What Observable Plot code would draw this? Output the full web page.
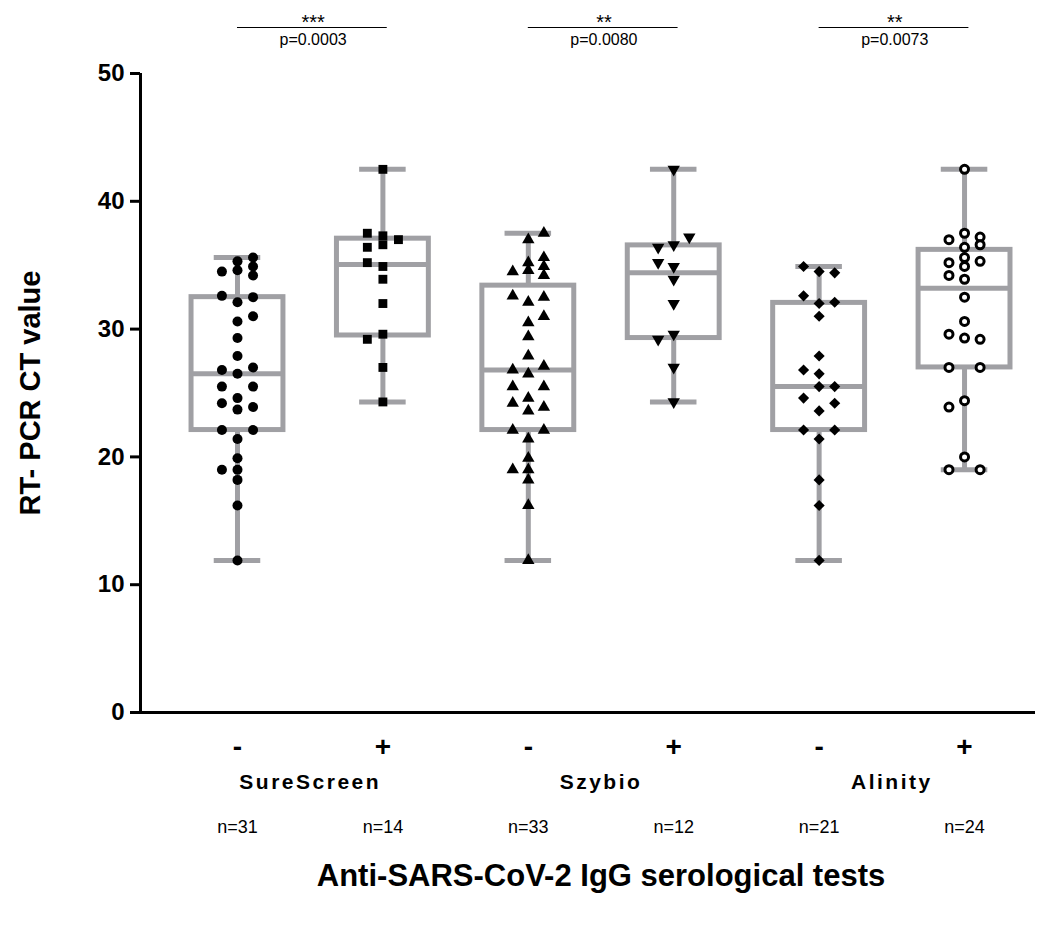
<!DOCTYPE html>
<html>
<head>
<meta charset="utf-8">
<script src="https://cdn.jsdelivr.net/npm/d3@7"></script>
<script src="https://cdn.jsdelivr.net/npm/@observablehq/plot@0.6"></script>
<style>
  body { margin: 0; background: #fff; font-family: "Liberation Sans", Arial, sans-serif; }
</style>
</head>
<body>
<div id="chart"></div>
<script>
// grupos (orden del eje x)
const groups = ['SureScreen -', 'SureScreen +', 'Szybio -', 'Szybio +', 'Alinity -', 'Alinity +']
const signs = ['-', '+', '-', '+', '-', '+']
const tests = ['SureScreen', 'Szybio', 'Alinity']
const counts = ['n=31', 'n=14', 'n=33', 'n=12', 'n=21', 'n=24']
const stars = ['***', '**', '**']
const pvalues = ['p=0.0003', 'p=0.0080', 'p=0.0073']

// valores CT por grupo: columna central, izquierda y derecha del scatter
const sureNeg = {
  c: [35.3, 34.6, 32.1, 30.6, 29.3, 27.9, 26.5, 24.6, 23.7, 21.4, 19.9, 19.0, 18.2, 16.2, 11.9],
  l: [34.5, 32.6, 26.8, 25.5, 24.2, 22.1, 19.0],
  r: [35.6, 34.9, 34.2, 32.5, 31.0, 27.0, 25.5, 23.9, 22.1],
}
const surePos = {
  c: [42.5, 37.3, 36.6, 34.9, 33.9, 32.0, 29.6, 27.0, 24.3],
  l: [37.5, 36.4, 35.2, 29.2],
  r: [37.0],
}
const szyNeg = {
  c: [37.0, 35.2, 34.6, 32.1, 30.5, 29.4, 27.9, 26.5, 24.6, 23.6, 21.4, 19.9, 19.0, 18.2, 16.2, 11.9],
  l: [34.5, 32.6, 26.8, 25.5, 24.2, 22.1, 19.0],
  r: [37.5, 35.6, 34.9, 34.2, 32.5, 31.0, 27.1, 25.5, 23.9, 22.1],
}
const szyPos = {
  c: [42.5, 36.6, 34.9, 33.9, 32.0, 29.6, 27.0, 24.3],
  l: [36.4, 35.2, 29.2],
  r: [37.2],
}
const aliNeg = {
  c: [34.5, 32.0, 31.0, 27.9, 26.5, 25.5, 23.6, 21.4, 18.2, 16.2, 11.9],
  l: [34.9, 32.6, 26.8, 24.6, 22.1],
  r: [34.4, 32.1, 25.5, 24.2, 22.1],
}
const aliPos = {
  c: [42.5, 37.5, 36.4, 35.6, 34.9, 33.9, 32.5, 30.6, 29.3, 24.4, 20.0],
  l: [37.0, 35.2, 34.2, 29.6, 27.0, 23.9, 19.0],
  r: [37.2, 36.6, 35.3, 29.2, 27.0, 19.0],
}
const series = [sureNeg, surePos, szyNeg, szyPos, aliNeg, aliPos]

// triángulo invertido
const triangleDown = {
  draw(ctx, size) {
    const s = Math.sqrt(size / (Math.sqrt(3) / 4)) // lado
    const h = s * Math.sqrt(3) / 2
    ctx.moveTo(0, h * 2 / 3)
    ctx.lineTo(s / 2, -h / 3)
    ctx.lineTo(-s / 2, -h / 3)
    ctx.closePath()
  },
}
const symbols = ['circle', 'square', 'triangle', triangleDown, 'diamond2', 'circle']
const radii = [5, 5, 4.6, 4.6, 5, 4]

const jitter = 0.107
const points = []
series.forEach((s, i) => {
  for (const [k, off] of [['c', 0], ['l', -1], ['r', 1]])
    s[k].forEach(v => points.push({ i, x: i + off * jitter, y: v }))
})

// cuartiles estilo GraphPad ((n+1)p)
function q(sorted, p) {
  const pos = (sorted.length + 1) * p - 1
  const lo = Math.max(0, Math.floor(pos)), hi = Math.min(sorted.length - 1, Math.ceil(pos))
  return sorted[lo] + (sorted[hi] - sorted[lo]) * (pos - lo)
}
const stats = series.map((s, i) => {
  const v = [...s.c, ...s.l, ...s.r].sort(d3.ascending)
  return { i, min: v[0], max: v[v.length - 1], q1: q(v, 0.25), med: q(v, 0.5), q3: q(v, 0.75) }
})

const gray = '#a0a0a4'
const bw = 0.316, cw = 0.16
const pairs = [0, 2, 4]

const chart = Plot.plot({
  width: 1051,
  height: 927,
  marginLeft: 140,
  marginRight: 16,
  marginTop: 73,
  marginBottom: 215,
  style: { fontFamily: 'Liberation Sans, Arial, sans-serif', color: '#000' },
  x: { type: 'linear', domain: [-0.667, 5.488] },
  y: { domain: [0, 50] },
  marks: [
    Plot.axisY({ ticks: [0, 10, 20, 30, 40, 50], tickSize: 10, strokeWidth: 3, fontSize: 24, fontWeight: 'bold', label: null, tickPadding: 6 }),
    Plot.axisX({ ticks: [0, 1, 2, 3, 4, 5], tickSize: 0, tickFormat: i => signs[i], fontSize: 28, fontWeight: 'bold', label: null, tickPadding: 24 }),
    Plot.ruleX([-0.667], { strokeWidth: 3 }),
    Plot.ruleY([0], { strokeWidth: 3 }),
    // bigotes min-max
    Plot.ruleX(stats, { x: 'i', y1: 'min', y2: 'max', stroke: gray, strokeWidth: 5 }),
    Plot.ruleY(stats, { y: 'min', x1: d => d.i - cw, x2: d => d.i + cw, stroke: gray, strokeWidth: 5 }),
    Plot.ruleY(stats, { y: 'max', x1: d => d.i - cw, x2: d => d.i + cw, stroke: gray, strokeWidth: 5 }),
    Plot.rect(stats, { x1: d => d.i - bw, x2: d => d.i + bw, y1: 'q1', y2: 'q3', fill: 'white', stroke: gray, strokeWidth: 5 }),
    Plot.ruleY(stats, { y: 'med', x1: d => d.i - bw, x2: d => d.i + bw, stroke: gray, strokeWidth: 5 }),
    // puntos
    ...series.map((s, i) => Plot.dot(points.filter(d => d.i === i), {
      x: 'x', y: 'y', symbol: () => symbols[i], r: radii[i],
      fill: i === 5 ? 'white' : 'black', stroke: 'black', strokeWidth: i === 5 ? 3 : 0,
    })),
    // significancia
    Plot.ruleY(pairs, { y: 53.6, x1: d => d, x2: d => d + 1.03, strokeWidth: 1.2 }),
    Plot.text(pairs, { x: d => d + 0.52, y: 54.2, text: (d, k) => stars[k], fontSize: 20, dy: 3 }),
    Plot.text(pairs, { x: d => d + 0.52, y: 52.6, text: (d, k) => pvalues[k], fontSize: 16 }),
    // textos inferiores
    Plot.text(pairs, { x: d => d + 0.5, text: (d, k) => tests[k], frameAnchor: 'bottom', dy: 76, fontSize: 21, fontWeight: 'bold', style: 'letter-spacing: 3px' }),
    Plot.text([0, 1, 2, 3, 4, 5], { x: d => d, text: d => counts[d], frameAnchor: 'bottom', dy: 120, fontSize: 18 }),
    Plot.text(['Anti-SARS-CoV-2 IgG serological tests'], { x: 2.5, frameAnchor: 'bottom', dy: 173, fontSize: 31, fontWeight: 'bold' }),
    Plot.text(['RT- PCR CT value'], { frameAnchor: 'left', dx: -110, rotate: -90, textAnchor: 'middle', fontSize: 29, fontWeight: 'bold' }),
  ],
})
d3.select(chart).selectAll('text').filter(function () { return ['SureScreen', 'Szybio', 'Alinity'].includes(this.textContent) }).style('letter-spacing', '2.5px')
d3.select('#chart').append(() => chart)
</script>
</body>
</html>
